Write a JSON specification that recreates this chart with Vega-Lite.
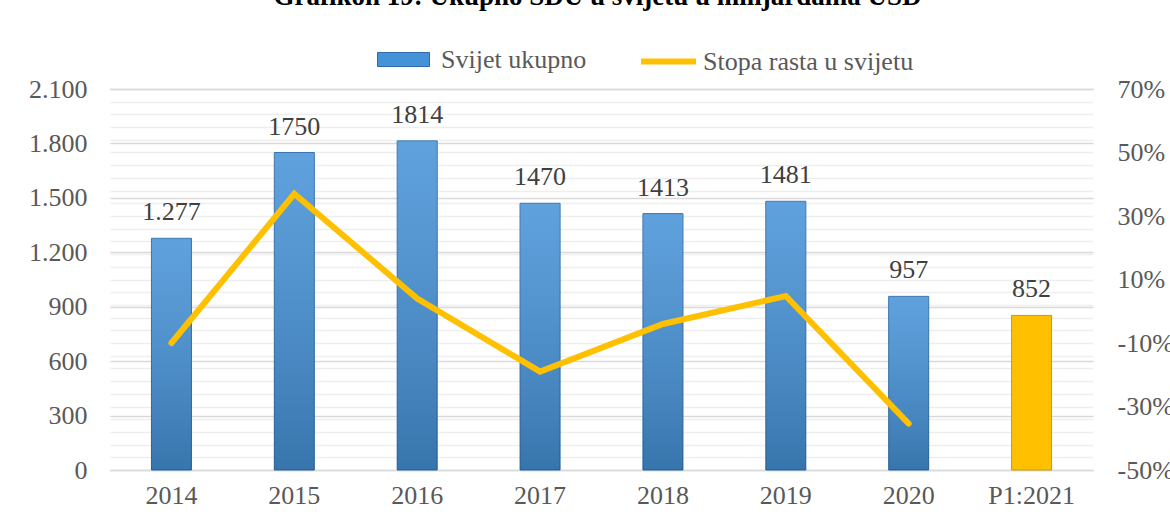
{
  "$schema": "https://vega.github.io/schema/vega-lite/v6.json",
  "width": 983,
  "height": 381,
  "autosize": {"type": "none"},
  "padding": {"left": 110, "top": 89, "right": 77, "bottom": 52},
  "background": "white",
  "title": {
    "text": "Grafikon 19: Ukupno SDU u svijetu u milijardama USD",
    "anchor": "middle",
    "offset": 20,
    "dx": -4,
    "fontSize": 27,
    "font": "Liberation Serif",
    "fontWeight": "bold",
    "color": "#000000"
  },
  "config": {
    "font": "Liberation Serif",
    "view": {"stroke": null},
    "axis": {
      "labelFont": "Liberation Serif",
      "labelFontSize": 26,
      "labelColor": "#595959",
      "domain": false,
      "ticks": false,
      "title": null
    },
    "legend": {
      "labelFont": "Liberation Serif",
      "labelFontSize": 26,
      "labelColor": "#595959",
      "labelLimit": 400,
      "padding": 0
    }
  },
  "data": {
    "values": [
      {"year": "2014", "value": 1277, "label": "1.277", "growth": -0.10, "series": "Svijet ukupno", "line": "Stopa rasta u svijetu"},
      {"year": "2015", "value": 1750, "label": "1750", "growth": 0.37, "series": "Svijet ukupno", "line": "Stopa rasta u svijetu"},
      {"year": "2016", "value": 1814, "label": "1814", "growth": 0.04, "series": "Svijet ukupno", "line": "Stopa rasta u svijetu"},
      {"year": "2017", "value": 1470, "label": "1470", "growth": -0.19, "series": "Svijet ukupno", "line": "Stopa rasta u svijetu"},
      {"year": "2018", "value": 1413, "label": "1413", "growth": -0.04, "series": "Svijet ukupno", "line": "Stopa rasta u svijetu"},
      {"year": "2019", "value": 1481, "label": "1481", "growth": 0.048, "series": "Svijet ukupno", "line": "Stopa rasta u svijetu"},
      {"year": "2020", "value": 957, "label": "957", "growth": -0.354, "series": "Svijet ukupno", "line": "Stopa rasta u svijetu"},
      {"year": "P1:2021", "value": 852, "label": "852", "growth": null, "series": "P1:2021", "line": "Stopa rasta u svijetu"}
    ]
  },
  "encoding": {
    "x": {
      "field": "year",
      "type": "nominal",
      "sort": null,
      "scale": {"paddingInner": 0, "paddingOuter": 0},
      "axis": {"labelAngle": 0, "labelPadding": 12, "grid": false}
    }
  },
  "layer": [
    {
      "layer": [
        {
          "mark": {"type": "bar", "size": 40, "strokeWidth": 1},
          "encoding": {
            "y": {
              "field": "value",
              "type": "quantitative",
              "scale": {"domain": [0, 2100], "nice": false},
              "axis": {
                "orient": "left",
                "values": [0, 300, 600, 900, 1200, 1500, 1800, 2100],
                "labelExpr": "replace(format(datum.value, ','), ',', '.')",
                "labelPadding": 23,
                "grid": true,
                "gridColor": "#d9d9d9",
                "gridWidth": 1.5
              }
            },
            "fill": {
              "field": "series",
              "type": "nominal",
              "scale": {"domain": ["Svijet ukupno", "P1:2021"], "range": ["#4592d8", "#ffc000"]},
              "legend": {
                "orient": "none",
                "legendX": 267,
                "legendY": -56,
                "title": null,
                "values": ["Svijet ukupno"],
                "symbolType": "M-1,-0.27L1,-0.27L1,0.27L-1,0.27Z",
                "symbolSize": 2704,
                "symbolStrokeColor": "#2d6aa8",
                "symbolStrokeWidth": 1,
                "labelOffset": 11,
                "labelFont": "Liberation Serif",
                "labelFontSize": 26,
                "labelColor": "#595959",
                "labelLimit": 400
              }
            },
            "stroke": {
              "condition": {"test": "datum.year == 'P1:2021'", "value": "#c99a06"},
              "value": "#2d6aa8"
            }
          }
        },
        {
          "transform": [{"filter": "datum.series == 'Svijet ukupno'"}],
          "mark": {
            "type": "bar",
            "size": 40,
            "fill": {
              "gradient": "linear",
              "x1": 0, "y1": 0, "x2": 0, "y2": 1,
              "stops": [
                {"offset": 0, "color": "rgba(255,255,255,0.14)"},
                {"offset": 1, "color": "rgba(0,0,0,0.2)"}
              ]
            }
          },
          "encoding": {
            "y": {"field": "value", "type": "quantitative"}
          }
        },
        {
          "mark": {"type": "text", "baseline": "alphabetic", "dy": -18, "fontSize": 26, "color": "#404040", "font": "Liberation Serif"},
          "encoding": {
            "y": {"field": "value", "type": "quantitative"},
            "text": {"field": "label", "type": "nominal"}
          }
        }
      ]
    },
    {
      "mark": {"type": "line", "strokeWidth": 6, "strokeCap": "round", "strokeJoin": "miter"},
      "encoding": {
        "y": {
          "field": "growth",
          "type": "quantitative",
          "scale": {"domain": [-0.5, 0.7], "nice": false, "zero": false},
          "axis": {
            "orient": "right",
            "values": [-0.5, -0.46, -0.42, -0.38, -0.34, -0.3, -0.26, -0.22, -0.18, -0.14, -0.1, -0.06, -0.02, 0.02, 0.06, 0.1, 0.14, 0.18, 0.22, 0.26, 0.3, 0.34, 0.38, 0.42, 0.46, 0.5, 0.54, 0.58, 0.62, 0.66, 0.7],
            "labelExpr": "abs(round((datum.value + 0.5) * 50)) % 10 == 0 ? replace(format(datum.value, '.0%'), '\u2212', '-') : ''",
            "labelOverlap": false,
            "labelPadding": 24,
            "grid": true,
            "gridColor": {"condition": {"test": "datum.value < -0.49 || datum.value > 0.69", "value": "#d9d9d9"}, "value": "#eeeeee"},
            "gridWidth": 1.5
          }
        },
        "stroke": {
          "field": "line",
          "type": "nominal",
          "scale": {"domain": ["Stopa rasta u svijetu"], "range": ["#ffc000"]},
          "legend": {
            "orient": "none",
            "legendX": 528,
            "legendY": -58,
            "title": null,
            "symbolType": "stroke",
            "symbolSize": 3025,
            "symbolStrokeWidth": 6,
            "labelOffset": 4,
            "labelFont": "Liberation Serif",
            "labelFontSize": 26,
            "labelColor": "#595959",
            "labelLimit": 400
          }
        }
      }
    }
  ],
  "resolve": {"scale": {"y": "independent"}}
}
